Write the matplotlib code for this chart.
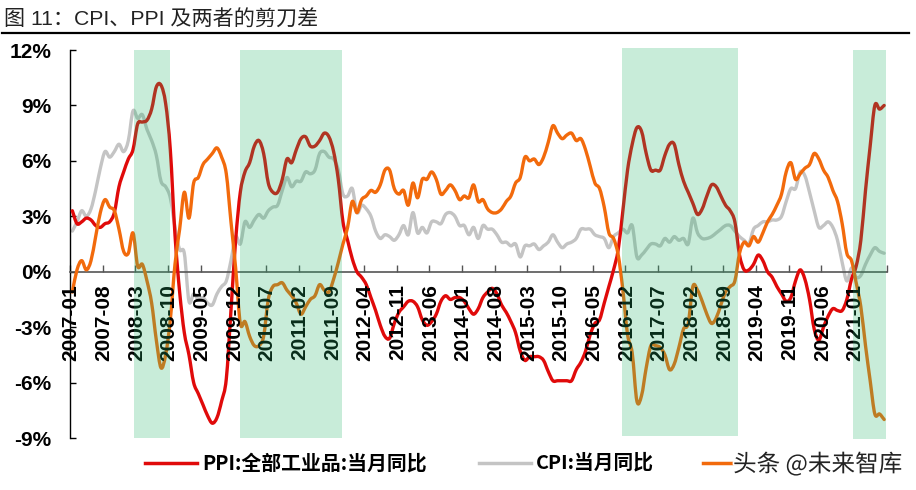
import numpy as np
import matplotlib
matplotlib.use('Agg')
import matplotlib.pyplot as plt
import matplotlib.patheffects as pe
from matplotlib.path import Path
from matplotlib.patches import PathPatch

plt.rcParams['font.family'] = ['Liberation Sans', 'Noto Sans CJK SC', 'DejaVu Sans']

# monthly, 2007-01 .. 2021-07
ppi = [3.3, 2.6, 2.7, 2.9, 2.8, 2.5, 2.4, 2.6, 2.7, 3.2, 4.6, 5.4,
       6.1, 6.6, 8.0, 8.1, 8.2, 8.8, 10.0, 10.1, 9.1, 6.6, 2.0, -1.1,
       -3.3, -4.5, -6.0, -6.6, -7.2, -7.8, -8.2, -7.9, -7.0, -5.8, -2.1, 1.7,
       4.3, 5.4, 5.9, 6.8, 7.1, 6.4, 4.8, 4.3, 4.3, 5.0, 6.1, 5.9,
       6.6, 7.2, 7.3, 6.8, 6.8, 7.1, 7.5, 7.3, 6.5, 5.0, 2.7, 1.7,
       0.7, 0.0, -0.3, -0.7, -1.4, -2.1, -2.9, -3.5, -3.6, -2.8, -2.2, -1.9,
       -1.6, -1.6, -1.9, -2.6, -2.9, -2.7, -2.3, -1.6, -1.3, -1.5, -1.4, -1.4,
       -1.6, -2.0, -2.3, -2.0, -1.4, -1.1, -0.9, -1.2, -1.8, -2.2, -2.7, -3.3,
       -4.3, -4.8, -4.6, -4.6, -4.6, -4.8, -5.4, -5.9, -5.9, -5.9, -5.9, -5.9,
       -5.3, -4.9, -4.3, -3.4, -2.8, -2.6, -1.7, -0.8, 0.1, 1.2, 3.3, 5.5,
       6.9, 7.8, 7.6, 6.4, 5.5, 5.5, 5.5, 6.3, 6.9, 6.9, 5.8, 4.9,
       4.3, 3.7, 3.1, 3.4, 4.1, 4.7, 4.6, 4.1, 3.6, 3.3, 2.7, 0.9,
       0.1, 0.1, 0.4, 0.9, 0.6, 0.0, -0.3, -0.8, -1.2, -1.6, -1.4, -0.5,
       0.1, -0.4, -1.5, -3.1, -3.7, -3.0, -2.4, -2.0, -2.1, -2.1, -1.5, -0.4,
       0.3, 1.7, 4.4, 6.8, 9.0, 8.8, 9.0]
cpi = [2.2, 2.7, 3.3, 3.0, 3.4, 4.4, 5.6, 6.5, 6.2, 6.5, 6.9, 6.5,
       7.1, 8.7, 8.3, 8.5, 7.7, 7.1, 6.3, 4.9, 4.6, 4.0, 2.4, 1.2,
       1.0, -1.6, -1.2, -1.5, -1.4, -1.7, -1.8, -1.2, -0.8, -0.5, 0.6, 1.9,
       1.5, 2.7, 2.4, 2.8, 3.1, 2.9, 3.3, 3.5, 3.6, 4.4, 5.1, 4.6,
       4.9, 4.9, 5.4, 5.3, 5.5, 6.4, 6.5, 6.2, 6.1, 5.5, 4.2, 4.1,
       4.5, 3.2, 3.6, 3.4, 3.0, 2.2, 1.8, 2.0, 1.9, 1.7, 2.0, 2.5,
       2.0, 3.2, 2.1, 2.4, 2.1, 2.7, 2.7, 2.6, 3.1, 3.2, 3.0, 2.5,
       2.5, 2.0, 2.4, 1.8, 2.5, 2.3, 2.3, 2.0, 1.6, 1.6, 1.4, 1.5,
       0.8, 1.4, 1.4, 1.5, 1.2, 1.4, 1.6, 2.0, 1.6, 1.3, 1.5, 1.6,
       1.8, 2.3, 2.3, 2.3, 2.0, 1.9, 1.8, 1.3, 1.9, 2.1, 2.3, 2.1,
       2.5, 0.8, 0.9, 1.2, 1.5, 1.5, 1.4, 1.8, 1.6, 1.9, 1.7, 1.8,
       1.5, 2.9, 2.1, 1.8, 1.8, 1.9, 2.1, 2.3, 2.5, 2.5, 2.2, 1.9,
       1.7, 1.5, 2.3, 2.5, 2.7, 2.7, 2.8, 2.8, 3.0, 3.8, 4.5, 4.5,
       5.4, 5.2, 4.3, 3.3, 2.4, 2.5, 2.7, 2.4, 1.7, 0.5, -0.5, 0.2,
       -0.3, -0.2, 0.4, 0.9, 1.3, 1.1, 1.0]
gap = [-1.1, 0.1, 0.6, 0.1, 0.6, 1.9, 3.2, 3.9, 3.5, 3.3, 2.3, 1.1,
       1.0, 2.1, 0.3, 0.4, -0.5, -1.7, -3.7, -5.2, -4.5, -2.6, 0.4, 2.3,
       4.3, 2.9, 4.8, 5.1, 5.8, 6.1, 6.4, 6.7, 6.2, 5.3, 2.7, 0.2,
       -2.8, -2.7, -3.5, -4.0, -4.0, -3.5, -1.5, -0.8, -0.7, -0.6, -1.0, -1.3,
       -1.7, -2.3, -1.9, -1.5, -1.3, -0.7, -1.0, -1.1, -0.4, 0.5, 1.5, 2.4,
       3.8, 3.2, 3.9, 4.1, 4.4, 4.3, 4.7, 5.5, 5.5, 4.5, 4.2, 4.4,
       3.6, 4.8, 4.0, 5.0, 5.0, 5.4, 5.0, 4.2, 4.4, 4.7, 4.4, 3.9,
       4.1, 4.0, 4.7, 3.8, 3.9, 3.4, 3.2, 3.2, 3.4, 3.8, 4.1, 4.8,
       5.1, 6.2, 6.0, 6.1, 5.8, 6.2, 7.0, 7.9, 7.5, 7.2, 7.4, 7.5,
       7.1, 7.2, 6.6, 5.7, 4.8, 4.5, 3.5, 2.1, 1.8, 0.9, -1.0, -3.4,
       -4.4, -7.0, -6.7, -5.2, -4.0, -4.0, -4.1, -4.5, -5.3, -5.0, -4.1, -3.1,
       -2.8, -0.8, -1.0, -1.6, -2.3, -2.8, -2.5, -1.8, -1.1, -0.8, -0.5, 1.0,
       1.6, 1.4, 1.9, 1.6, 2.1, 2.7, 3.1, 3.6, 4.2, 5.4, 5.9, 5.0,
       5.3, 5.6, 5.8, 6.4, 6.1, 5.5, 5.1, 4.4, 3.8, 2.6, 1.0, 0.6,
       -0.6, -1.9, -4.0, -5.9, -7.7, -7.7, -8.0]
tick_labels = ['2007-01', '2007-08', '2008-03', '2008-10', '2009-05', '2009-12', '2010-07',
               '2011-02', '2011-09', '2012-04', '2012-11', '2013-06', '2014-01', '2014-08',
               '2015-03', '2015-10', '2016-05', '2016-12', '2017-07', '2018-02', '2018-09',
               '2019-04', '2019-11', '2020-06', '2021-01']
# shaded periods in month index
bands = [(13.22, 20.95, 0, 1), (35.96, 57.83, 0, 1), (117.9, 142.75, 0.005, 1.005), (167.4, 174.3, -0.003, 1)]


def smooth_line(ax, x, y, color, zorder):
    # excel style smoothed line, bezier curve through the monthly values
    pts = np.column_stack([x, y])
    tan = np.gradient(pts, axis=0) / 3
    verts = [pts[0]]
    codes = [Path.MOVETO]
    for i in range(len(pts) - 1):
        verts += [pts[i] + tan[i], pts[i + 1] - tan[i + 1], pts[i + 1]]
        codes += [Path.CURVE4] * 3
    ax.add_patch(PathPatch(Path(verts, codes), fill=False, edgecolor=color, lw=2.4,
                           joinstyle='round', capstyle='round', zorder=zorder))


W, H = 916, 490
fig = plt.figure(figsize=(W / 100, H / 100), dpi=100)
ax = fig.add_axes([70 / W, 1 - 438 / H, 816.5 / W, 388 / H])

x = np.arange(len(ppi))
smooth_line(ax, x, ppi, '#E00A0A', 3)
smooth_line(ax, x, cpi, '#C4C4C4', 2)
smooth_line(ax, x, gap, '#F26A0C', 4)

ax.set_xlim(-0.5, 174.5)
ax.set_ylim(-9, 12)
ax.set_yticks([-9, -6, -3, 0, 3, 6, 9, 12])
ax.set_yticklabels([f'{v}%' for v in [-9, -6, -3, 0, 3, 6, 9, 12]], fontsize=15, fontweight='bold')
ax.tick_params(axis='y', direction='in', length=4.5, width=1, color='black', pad=13.5)

ax.spines['top'].set_visible(False)
ax.spines['right'].set_visible(False)
ax.spines['left'].set_linewidth(1)
ax.spines['bottom'].set_position(('data', 0))
ax.spines['bottom'].set_color('#555555')
ax.spines['bottom'].set_linewidth(1.2)

ax.set_xticks(np.arange(-0.5, 175, 7))
ax.set_xticklabels([])
ax.tick_params(axis='x', direction='in', length=5, width=1, color='#555555')
for i, lab in enumerate(tick_labels):
    ax.text(-0.25 + 7 * i, -0.66, lab, rotation=90, ha='center', va='top', fontsize=15,
            fontweight='bold', color='black', zorder=5)

# green sits over the lines and the labels in the original
for x0, x1, y0, y1 in bands:
    ax.axvspan(x0, x1, ymin=y0, ymax=y1, facecolor=(0.14, 0.71, 0.42), alpha=0.25, lw=0, zorder=6, clip_on=False)

fig.text(4 / W, 1 - 26 / H, '图 11：CPI、PPI 及两者的剪刀差', fontsize=15.2, color='#222222', va='baseline')
fig.add_artist(plt.Line2D([2 / W, 909 / W], [1 - 33 / H] * 2, color='black', lw=1.6))

# legend
leg_y = 1 - 463 / H
for x0, x1, c in [(145, 197, '#E00A0A'), (479, 531, '#C4C4C4'), (703, 754, '#F26A0C')]:
    fig.add_artist(plt.Line2D([x0 / W, x1 / W], [leg_y, leg_y], color=c, lw=2.5))
leg_font = ['Noto Sans CJK SC', 'DejaVu Sans']
fig.text(202 / W, leg_y, 'PPI:全部工业品:当月同比', family=leg_font, fontweight='bold', fontsize=14.3, va='center')
fig.text(536 / W, leg_y, 'CPI:当月同比', family=leg_font, fontweight='bold', fontsize=14.2, va='center')

# site watermark
wm = fig.text(733 / W, 1 - 464 / H, '头条 @未来智库', family=leg_font, fontsize=17, color='#222222', va='center', zorder=10)
wm.set_path_effects([pe.withStroke(linewidth=2.5, foreground='white')])

fig.savefig('out.png', dpi=100)
